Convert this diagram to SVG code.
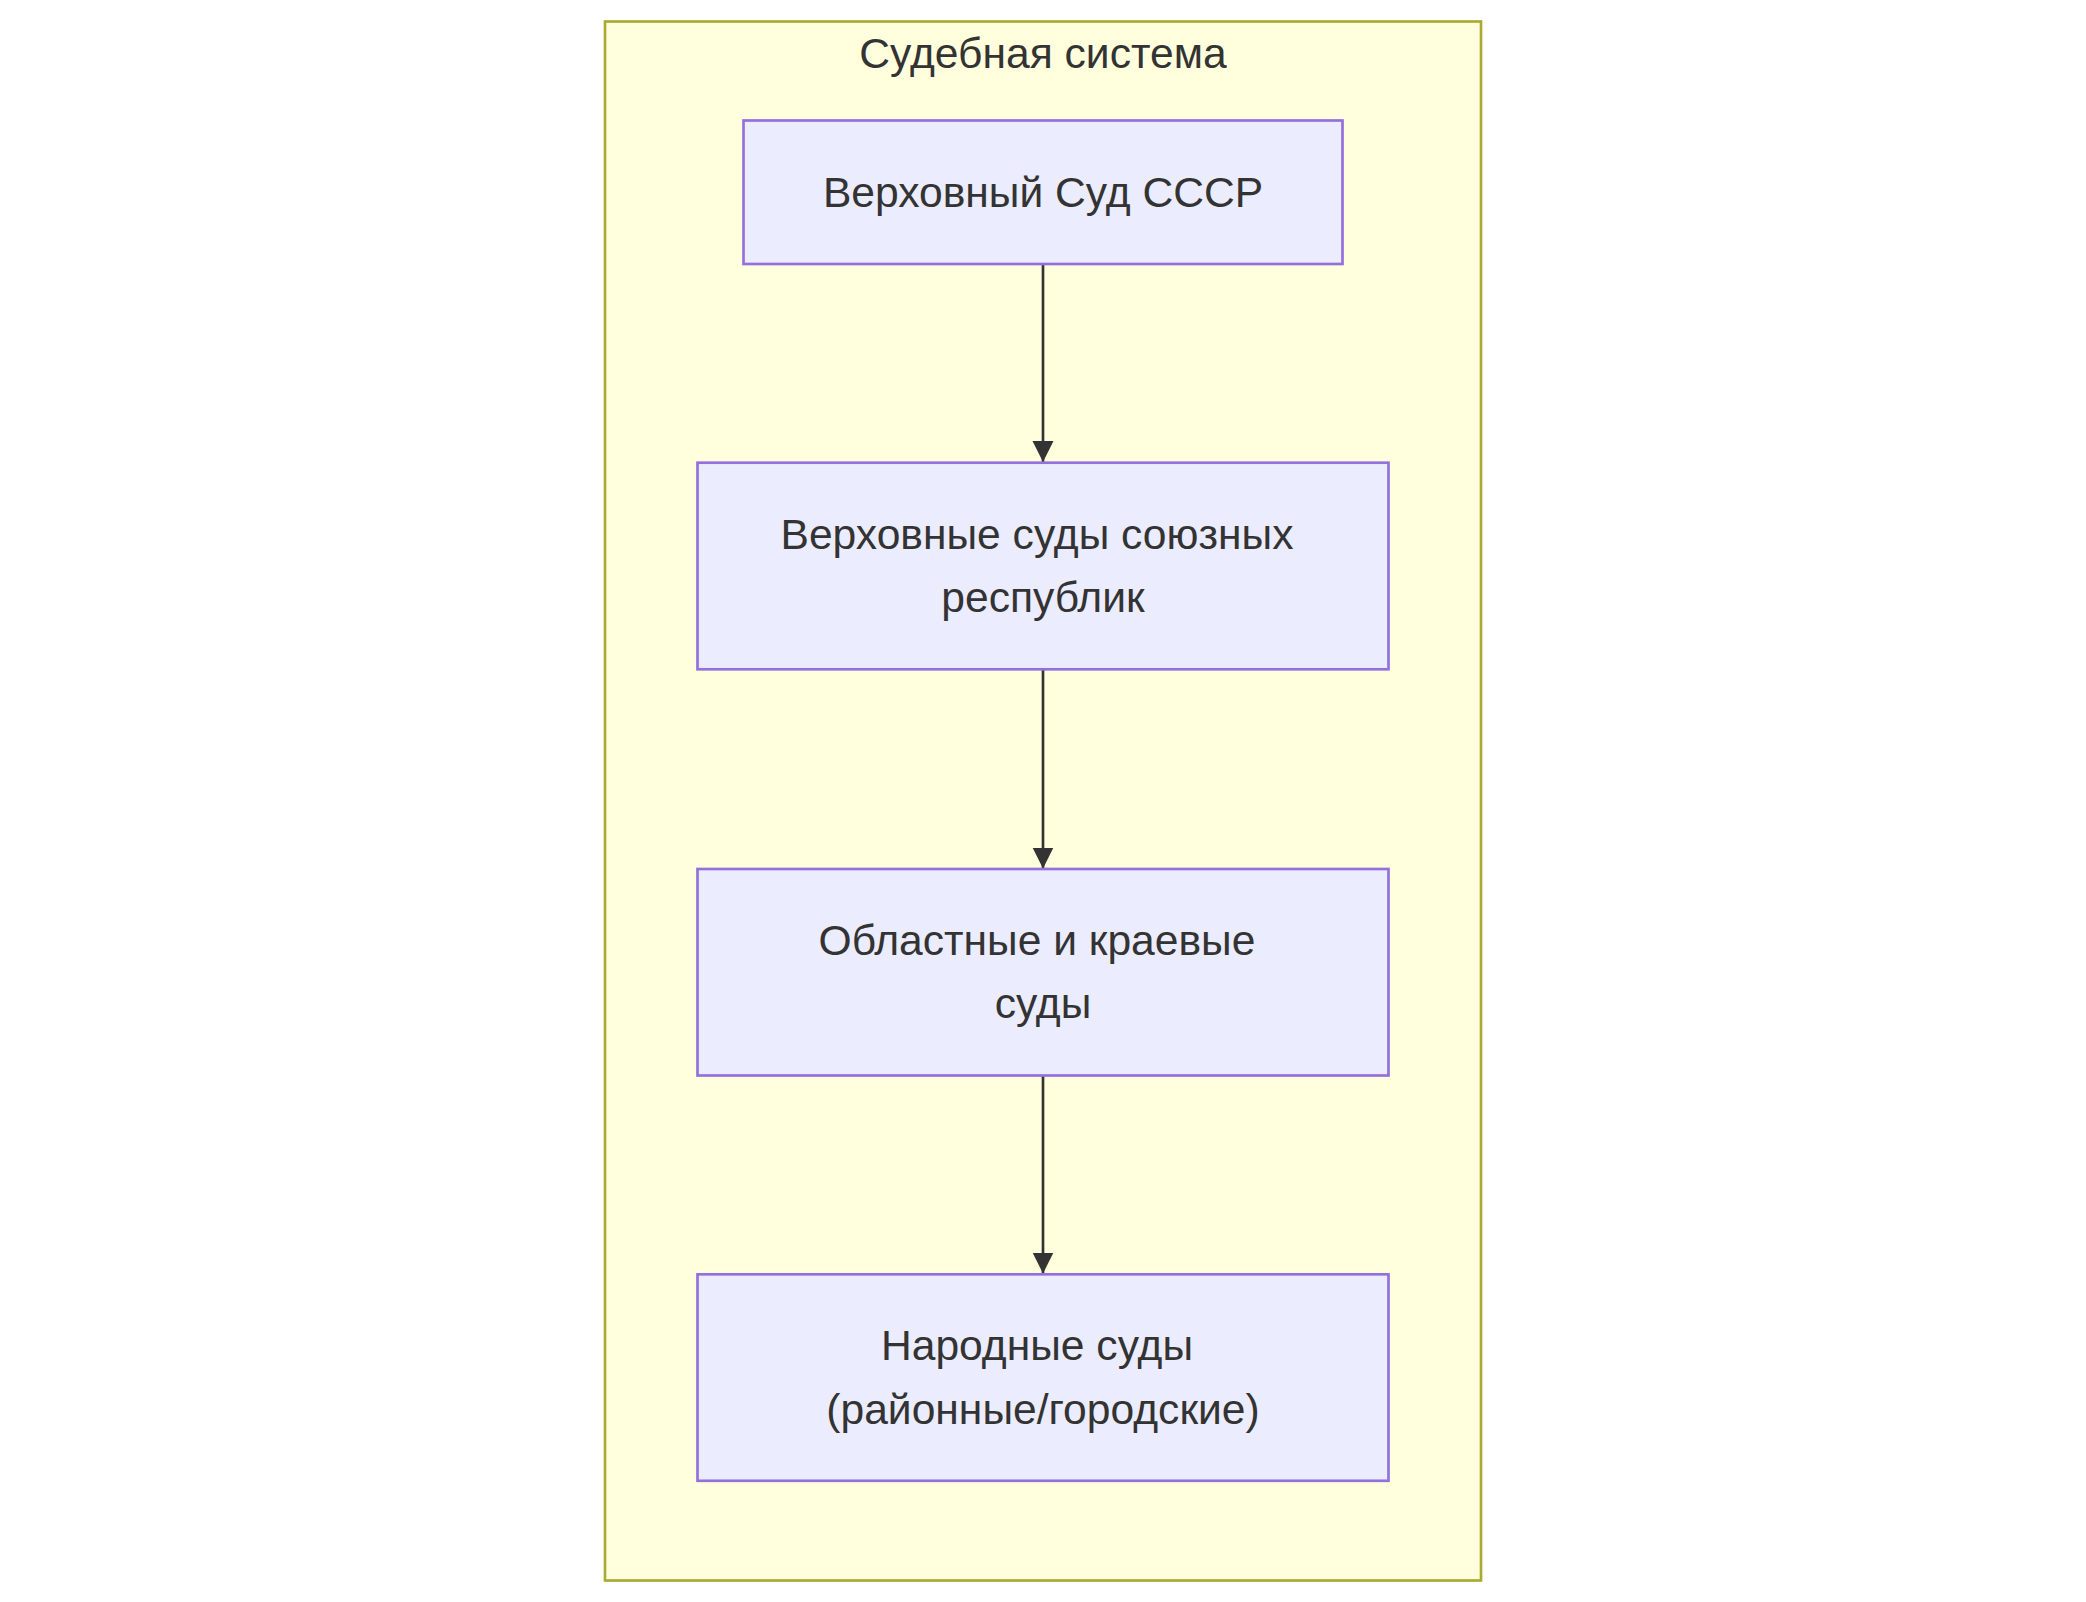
<svg xmlns="http://www.w3.org/2000/svg" width="2086" height="1602" viewBox="0 0 2086 1602">
<style>
.cluster{fill:#ffffde;stroke:#aaaa33;stroke-width:2.67}
.node rect{fill:#ECECFF;stroke:#9370DB;stroke-width:2.67}
text{font-family:"Liberation Sans",Arial,sans-serif;font-size:42.6px;fill:#333333;text-anchor:middle}
.edge{stroke:#333333;stroke-width:2.67;fill:none}
</style>
<defs>
<marker id="arrow" viewBox="0 0 10 10" refX="10" refY="5" markerWidth="21" markerHeight="22" markerUnits="userSpaceOnUse" orient="auto">
<path d="M0,0 L10,5 L0,10 z" fill="#333333"/>
</marker>
</defs>
<g id="cluster-judicial">
<rect class="cluster" x="605" y="21.5" width="876" height="1559"/>
<text x="1043" y="68">Судебная система</text>
</g>
<g id="connectors">
<line class="edge" x1="1043" y1="264" x2="1043" y2="462" marker-end="url(#arrow)"/>
<line class="edge" x1="1043" y1="669.5" x2="1043" y2="868.5" marker-end="url(#arrow)"/>
<line class="edge" x1="1043" y1="1075.5" x2="1043" y2="1273.5" marker-end="url(#arrow)"/>
</g>
<g id="node-supreme-ussr" class="node">
<rect x="743.5" y="120.5" width="599" height="143.5"/>
<text x="1043" y="206.5">Верховный Суд СССР</text>
</g>
<g id="node-supreme-republics" class="node">
<rect x="697.5" y="462.7" width="691" height="206.6"/>
<text x="1037" y="548.5">Верховные суды союзных</text>
<text x="1043" y="612">республик</text>
</g>
<g id="node-regional" class="node">
<rect x="697.5" y="869" width="691" height="206.5"/>
<text x="1037" y="954.8">Областные и краевые</text>
<text x="1043" y="1018.3">суды</text>
</g>
<g id="node-peoples" class="node">
<rect x="697.5" y="1274.3" width="691" height="206.5"/>
<text x="1037" y="1360.1">Народные суды</text>
<text x="1043" y="1423.6">(районные/городские)</text>
</g>
</svg>
